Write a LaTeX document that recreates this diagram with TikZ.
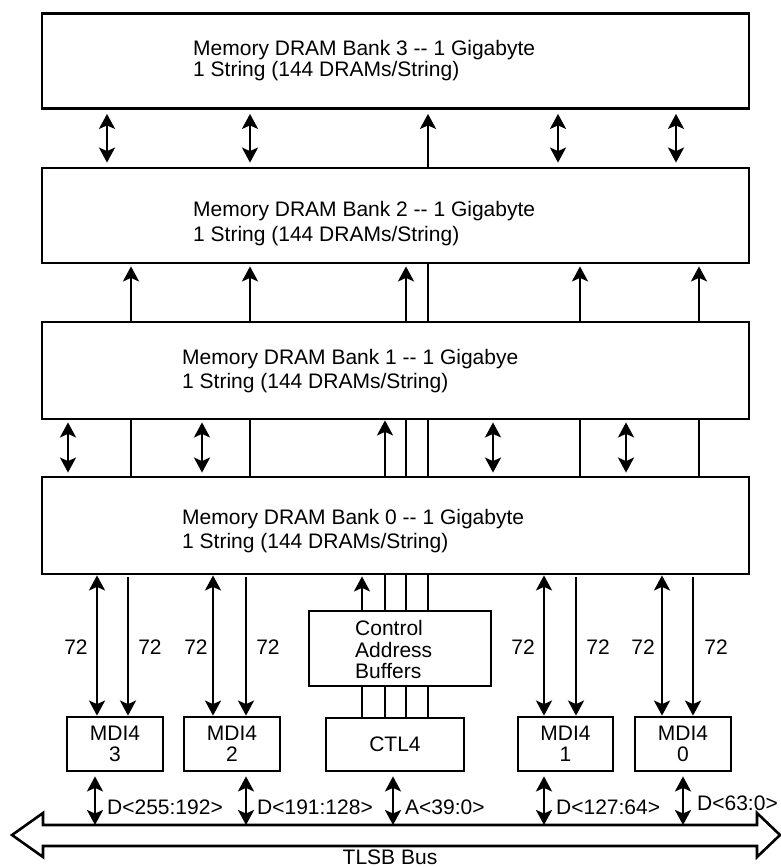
\documentclass[tikz,border=0pt]{standalone}
\usepackage{fontspec}
\setmainfont{Liberation Sans}
\usetikzlibrary{arrows.meta}
\newcommand{\dd}{-\kern0pt-}
\begin{document}
\begin{tikzpicture}[x=1pt,y=-1pt,
  box/.style={draw, line width=2.8pt, fill=white, inner sep=0pt},
  txt/.style={font=\fontsize{21}{24.5}\selectfont, inner sep=0pt, align=left},
  ctxt/.style={font=\fontsize{21}{21.5}\selectfont, inner sep=0pt, align=left},
  btxt/.style={font=\fontsize{21}{21}\selectfont, align=center},
  lbl/.style={font=\fontsize{21}{24}\selectfont, inner sep=0pt},
  ln/.style={line width=2.4pt},
  up/.style={ln, -{Stealth[length=15pt,width=16pt,inset=3.5pt]}},
  bi/.style={ln, {Stealth[length=15pt,width=16pt,inset=3.5pt]}-{Stealth[length=15pt,width=16pt,inset=3.5pt]}},
]
\useasboundingbox (0,0) rectangle (781,867);

% column coordinates
\foreach \x in {68,95,97,107,128,131,202,213,246,250,362,385,393,406,428,493,544,558,576,580,626,662,676,683,693,699}
  \coordinate (c\x) at (\x,0);
\coordinate (bustop) at (0,825);

% banks
\node[box, minimum width=707, minimum height=95] (b3) at (395.5,61) {};
\node[box, minimum width=707, minimum height=95] (b2) at (395.5,215.5) {};
\node[box, minimum width=707, minimum height=97] (b1) at (395.5,370.5) {};
\node[box, minimum width=707, minimum height=97] (b0) at (395.5,525.5) {};

\node[txt, font=\fontsize{21}{21.5}\selectfont, anchor=west] (t3) at (193,60.5) {Memory DRAM Bank 3 \dd{} 1 Gigabyte\\1 String (144 DRAMs/String)};
\node[txt, anchor=west] (t2) at (193,223.5) {Memory DRAM Bank 2 \dd{} 1 Gigabyte\\1 String (144 DRAMs/String)};
\node[txt, anchor=west] (t1) at (182,371) {Memory DRAM Bank 1 \dd{} 1 Gigabye\\1 String (144 DRAMs/String)};
\node[txt, anchor=west] (t0) at (182,531) {Memory DRAM Bank 0 \dd{} 1 Gigabyte\\1 String (144 DRAMs/String)};

% control / CTL4 / MDI boxes
\node[box, minimum width=182, minimum height=75] (ctrl) at (400,648.5) {};
\node[ctxt, anchor=west] (ctrlt) at (355,649.5) {Control\\Address\\Buffers};
\node[box, btxt, minimum width=138, minimum height=53] (ctl) at (395,744.5) {CTL4};
\node[box, btxt, minimum width=96, minimum height=54] (m3) at (115,744) {MDI4\\3};
\node[box, btxt, minimum width=96, minimum height=54] (m2) at (232,744) {MDI4\\2};
\node[box, btxt, minimum width=95, minimum height=54] (m1) at (565.5,744) {MDI4\\1};
\node[box, btxt, minimum width=96, minimum height=54] (m0) at (683,744) {MDI4\\0};

% bank3 - bank2
\foreach \x in {107,250,558,676}
  \draw[bi, shorten <=4pt, shorten >=4pt] (c\x |- b3.south) -- (c\x |- b2.north);
\draw[up, shorten >=4pt] (c428 |- b2.north) -- (c428 |- b3.south);
% bank2 - bank1
\foreach \x in {131,250,406,580,699}
  \draw[up, shorten >=2pt] (c\x |- b1.north) -- (c\x |- b2.south);
\draw[ln] (c428 |- b1.north) -- (c428 |- b2.south);
% bank1 - bank0
\foreach \x in {68,202,493,626}
  \draw[bi, shorten <=2pt, shorten >=3pt] (c\x |- b1.south) -- (c\x |- b0.north);
\foreach \x in {131,250,580,699,406,428}
  \draw[ln] (c\x |- b0.north) -- (c\x |- b1.south);
\draw[up] (c385 |- b0.north) -- (c385 |- b1.south);

% bank0 - control
\draw[up, shorten >=1pt] (c362 |- ctrl.north) -- (c362 |- b0.south);
\foreach \x in {385,406,428}
  \draw[ln] (c\x |- ctrl.north) -- (c\x |- b0.south);
% control - CTL4
\foreach \x in {362,385,406,428}
  \draw[ln] (c\x |- ctl.north) -- (c\x |- ctrl.south);

% bank0 - MDI
\draw[bi] (c97 |- b0.south) -- (c97 |- m3.north);
\draw[up, shorten <=2pt] (c128 |- b0.south) -- (c128 |- m3.north);
\draw[bi] (c213 |- b0.south) -- (c213 |- m2.north);
\draw[up, shorten <=2pt] (c246 |- b0.south) -- (c246 |- m2.north);
\draw[bi] (c544 |- b0.south) -- (c544 |- m1.north);
\draw[up, shorten <=2pt] (c576 |- b0.south) -- (c576 |- m1.north);
\draw[bi] (c662 |- b0.south) -- (c662 |- m0.north);
\draw[up, shorten <=2pt] (c693 |- b0.south) -- (c693 |- m0.north);

\node[lbl] (w1) at (76,647) {72};
\node[lbl] (w2) at (150,647) {72};
\node[lbl] (w3) at (196,647) {72};
\node[lbl] (w4) at (268,647) {72};
\node[lbl] (w5) at (523,647) {72};
\node[lbl] (w6) at (598,647) {72};
\node[lbl] (w7) at (643,647) {72};
\node[lbl] (w8) at (716,647) {72};

% bus
\draw[line width=2.6pt] (12,835) -- (43,813) -- (43,825) -- (757,825) -- (757,813) -- (780,835) -- (757,857) -- (757,846) -- (43,846) -- (43,857) -- cycle;
\node[lbl] (bus) at (390,857) {TLSB Bus};

\draw[bi, shorten <=4pt] (c95 |- m3.south) -- (c95 |- bustop);
\draw[bi, shorten <=4pt] (c246 |- m2.south) -- (c246 |- bustop);
\draw[bi, shorten <=4pt] (c393 |- ctl.south) -- (c393 |- bustop);
\draw[bi, shorten <=4pt] (c544 |- m1.south) -- (c544 |- bustop);
\draw[bi, shorten <=4pt] (c683 |- m0.south) -- (c683 |- bustop);

\node[lbl, anchor=west] (d3) at (107,807) {D<255:192>};
\node[lbl, anchor=west] (d2) at (257,807) {D<191:128>};
\node[lbl, anchor=west] (da) at (405,807) {A<39:0>};
\node[lbl, anchor=west] (d1) at (556,807) {D<127:64>};
\node[lbl, anchor=west] (d0) at (697,803) {D<63:0>};
\end{tikzpicture}
\end{document}
